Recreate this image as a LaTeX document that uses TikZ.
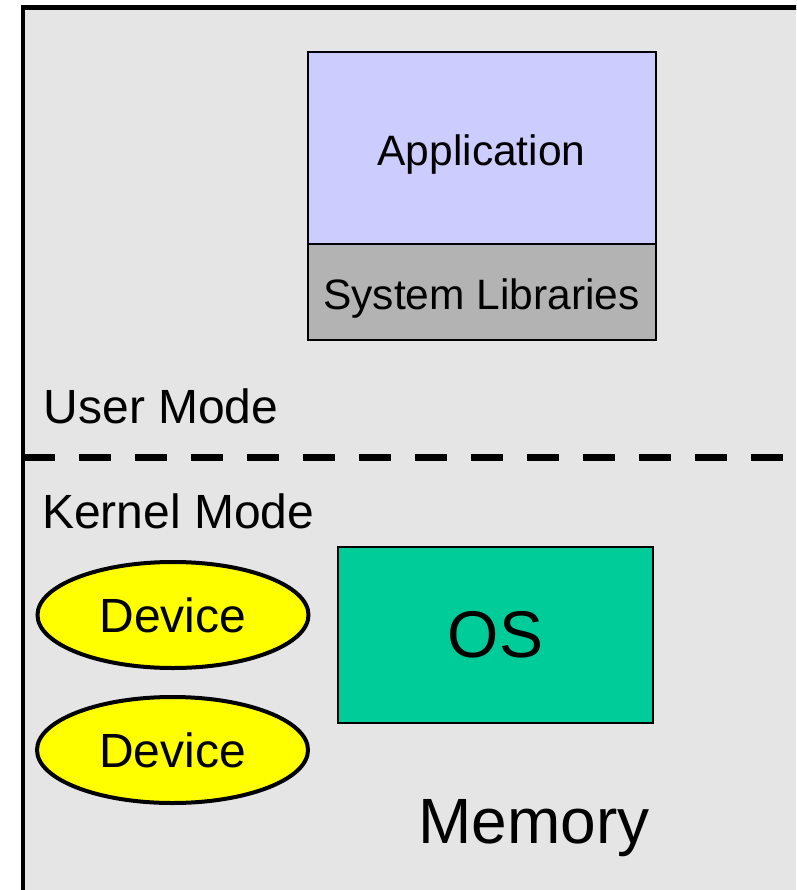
\documentclass[tikz,border=0pt]{standalone}
\usepackage{fontspec}
\setmainfont{Liberation Sans}
\usetikzlibrary{shapes.geometric}
\definecolor{bggray}{HTML}{E5E5E5}
\definecolor{appblue}{HTML}{CCCCFF}
\definecolor{libgray}{HTML}{B3B3B3}
\definecolor{osgreen}{HTML}{00CC99}
\definecolor{devyellow}{HTML}{FFFF00}
\tikzset{
  boxstyle/.style={draw=black, line width=2pt, inner sep=0pt, rectangle},
  devstyle/.style={draw=black, line width=4pt, fill=devyellow, ellipse, inner sep=0pt,
    minimum width=271pt, minimum height=106pt, font=\fontsize{48}{58}\selectfont},
  labelstyle/.style={inner sep=0pt, font=\fontsize{48}{58}\selectfont},
  boxtext/.style={inner sep=0pt, anchor=base, font=\fontsize{42.5}{50}\selectfont},
}
\begin{document}
\begin{tikzpicture}[x=1pt, y=-1pt]
\useasboundingbox (0,0) rectangle (796,890);
\clip (0,0) rectangle (796,890);
% outer memory frame
\fill[bggray] (23,7.5) rectangle (820,920);
\draw[line width=4.5pt] (23,920) -- (23,7.5) -- (820,7.5);
% mode separator
\coordinate (sepL) at (23,457.5);
\coordinate (sepR) at (800,457.5);
\draw[line width=7pt, dash pattern=on 32pt off 24pt] (sepL) -- (sepR);
% application and libraries
\node[boxstyle, fill=appblue, minimum width=348pt, minimum height=192pt] (app) at (482,148) {};
\node[boxstyle, fill=libgray, minimum width=348pt, minimum height=96pt] (lib) at (482,292) {};
\node[boxtext] (apptext) at (481.5,166) {Application};
\node[boxtext] (libtext) at (481.5,309.3) {System Libraries};
% mode labels
\node[labelstyle, anchor=base west] (user) at (43.5,423) {User Mode};
\node[labelstyle, anchor=base west] (kernel) at (42,528) {Kernel Mode};
% OS
\node[draw=black, line width=1.5pt, fill=osgreen, inner sep=0pt, minimum width=315pt, minimum height=176pt,
  font=\fontsize{66}{78}\selectfont] (os) at (495.5,635) {OS};
% devices
\node[devstyle] (dev1) at (173,615) {Device};
\node[devstyle] (dev2) at (172.5,750) {Device};
% memory label
\node[inner sep=0pt, anchor=base, font=\fontsize{64}{76}\selectfont] (mem) at (534,843.3) {Memory};
\end{tikzpicture}
\end{document}
